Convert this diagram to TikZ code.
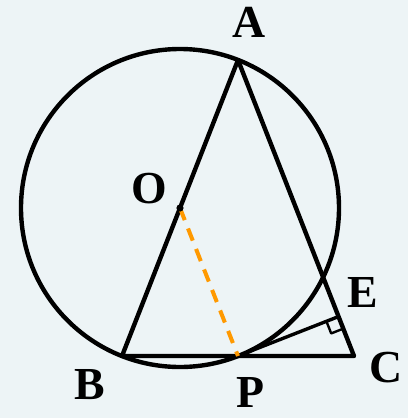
\documentclass[tikz,border=0pt]{standalone}
\usepackage{fontspec}
\setmainfont{Liberation Serif}
\usetikzlibrary{calc}
\definecolor{bgcol}{RGB}{237,244,246}
\definecolor{dashorange}{RGB}{255,153,0}

\begin{document}
\begin{tikzpicture}[x=1bp,y=-1bp,line join=round,
  seg/.style={line width=4.4bp},
  thinseg/.style={line width=3.4bp},
  lbl/.style={font=\fontsize{46}{46}\selectfont\bfseries,inner sep=0pt},
  aux/.style={dashorange,line width=4bp,dash pattern=on 13bp off 9bp}]
  \fill[bgcol] (0,0) rectangle (408,418);
  % points
  \coordinate (O) at (180,208);
  \coordinate (A) at (238,60);
  \coordinate (B) at (122,356);
  \coordinate (P) at (238,356);
  \coordinate (C) at (354,356);
  \coordinate (E) at ($(A)!(P)!(C)$);
  % circle and triangle
  \draw[seg] (O) circle[radius=159];
  \draw[seg] (B) -- (A) -- (C) -- cycle;
  \draw[thinseg] (P) -- (E);
  \draw[aux] (O) -- (P);
  \fill (O) circle[radius=3.6];
  % right angle at E
  \draw[line width=2.4bp] ($(E)!13bp!(P)$) -- ($(E)!13bp!(P)!13bp!90:(P)$) -- ($(E)!13bp!(C)$);
  % labels
  \node[lbl] (lA) at (249,22) {A};
  \node[lbl] (lO) at (149,189) {O};
  \node[lbl] (lE) at (363,292) {E};
  \node[lbl] (lC) at (386,368) {C};
  \node[lbl] (lB) at (90,385) {B};
  \node[lbl] (lP) at (250,392) {P};
\end{tikzpicture}
\end{document}
